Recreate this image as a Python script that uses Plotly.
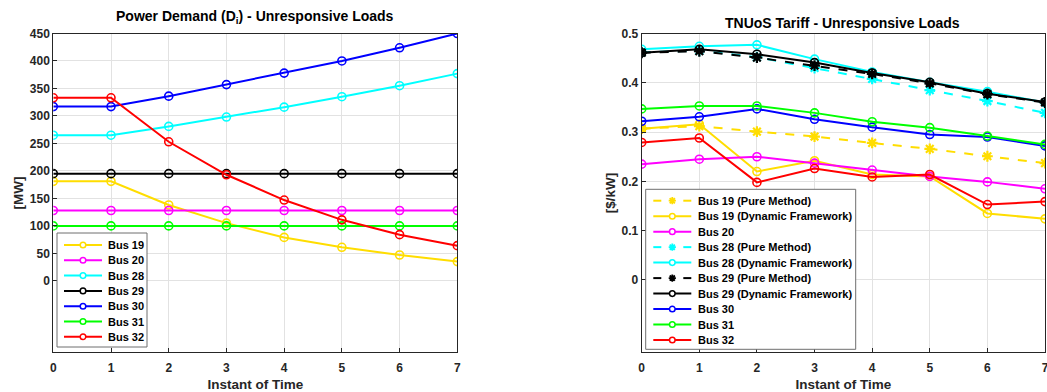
import plotly.graph_objects as go

t = [0, 1, 2, 3, 4, 5, 6, 7]

# Left chart: Power Demand [MW]
d_bus19 = [181, 181, 138, 105, 79, 61, 47, 35]
d_bus20 = [128, 128, 128, 128, 128, 128, 128, 128]
d_bus28 = [265, 265, 281, 298, 316, 335, 355, 377]
d_bus29 = [195, 195, 195, 195, 195, 195, 195, 195]
d_bus30 = [317, 317, 336, 357, 378, 400, 424, 450]
d_bus31 = [100, 100, 100, 100, 100, 100, 100, 100]
d_bus32 = [333, 333, 253, 193, 147, 111, 84, 64]

# Right chart: TNUoS Tariff [$/kW]
p_bus19_pure = [0.307, 0.312, 0.301, 0.291, 0.278, 0.266, 0.251, 0.237]
p_bus19_dyn = [0.307, 0.316, 0.220, 0.242, 0.214, 0.210, 0.135, 0.124]
p_bus20 = [0.235, 0.245, 0.250, 0.237, 0.223, 0.210, 0.199, 0.185]
p_bus28_pure = [0.462, 0.465, 0.452, 0.430, 0.408, 0.385, 0.363, 0.339]
p_bus28_dyn = [0.468, 0.474, 0.477, 0.448, 0.422, 0.401, 0.382, 0.360]
p_bus29_pure = [0.461, 0.464, 0.451, 0.435, 0.418, 0.399, 0.377, 0.360]
p_bus29_dyn = [0.461, 0.468, 0.458, 0.441, 0.420, 0.401, 0.378, 0.361]
p_bus30 = [0.322, 0.331, 0.347, 0.326, 0.310, 0.295, 0.290, 0.272]
p_bus31 = [0.347, 0.353, 0.353, 0.339, 0.321, 0.309, 0.292, 0.275]
p_bus32 = [0.279, 0.288, 0.198, 0.226, 0.209, 0.214, 0.153, 0.159]

YEL = "#FFDD00"
MAG = "#FF00FF"
CYA = "#00FFFF"
BLK = "#000000"
BLU = "#0000FF"
GRN = "#00FF00"
RED = "#FF0000"

FONT = "Liberation Sans, Arial, sans-serif"
TXT = "#262626"
W, H = 1047, 392

fig = go.Figure()


def solid(x, y, name, color, xa, ya):
    return go.Scatter(
        x=x, y=y, name=name, mode="lines+markers", showlegend=False,
        line=dict(color=color, width=2),
        marker=dict(symbol="circle-open", size=8, color=color, line=dict(width=1.6, color=color)),
        xaxis=xa, yaxis=ya,
    )


def dashed(x, y, name, color, xa, ya):
    return go.Scatter(
        x=x, y=y, name=name, mode="lines+markers", showlegend=False,
        line=dict(color=color, width=2, dash="dash"),
        marker=dict(symbol="asterisk", size=9, color=color, line=dict(width=2.2, color=color)),
        xaxis=xa, yaxis=ya,
    )


left = [
    ("Bus 19", d_bus19, YEL, False), ("Bus 20", d_bus20, MAG, False), ("Bus 28", d_bus28, CYA, False),
    ("Bus 29", d_bus29, BLK, False), ("Bus 30", d_bus30, BLU, False), ("Bus 31", d_bus31, GRN, False),
    ("Bus 32", d_bus32, RED, False),
]
for name, vals, col, _ in left:
    fig.add_trace(solid(t, vals, name, col, "x", "y"))

right = [
    ("Bus 19 (Pure Method)", p_bus19_pure, YEL, True),
    ("Bus 19 (Dynamic Framework)", p_bus19_dyn, YEL, False),
    ("Bus 20", p_bus20, MAG, False),
    ("Bus 28 (Pure Method)", p_bus28_pure, CYA, True),
    ("Bus 28 (Dynamic Framework)", p_bus28_dyn, CYA, False),
    ("Bus 29 (Pure Method)", p_bus29_pure, BLK, True),
    ("Bus 29 (Dynamic Framework)", p_bus29_dyn, BLK, False),
    ("Bus 30", p_bus30, BLU, False),
    ("Bus 31", p_bus31, GRN, False),
    ("Bus 32", p_bus32, RED, False),
]
for name, vals, col, pure in right:
    f = dashed if pure else solid
    fig.add_trace(f(t, vals, name, col, "x2", "y2"))

# ---- Legend boxes drawn as shapes + annotations (compact MATLAB-like spacing) ----
shapes = []
annotations = []


def px(x):
    return x / W


def py(y):
    return 1 - y / H


def add_legend(entries, box, first_y, step, line_x0, line_x1, text_x):
    bx0, by0, bx1, by1 = box
    shapes.append(dict(type="rect", xref="paper", yref="paper", x0=px(bx0), x1=px(bx1),
                       y0=py(by1), y1=py(by0), fillcolor="white",
                       line=dict(color="#6e6e6e", width=1), layer="above"))
    mx = (line_x0 + line_x1) / 2
    for i, (name, _, col, pure) in enumerate(entries):
        yc = first_y + i * step
        if pure:
            for a, b in ((line_x0, line_x0 + 8), (line_x1 - 8, line_x1)):
                shapes.append(dict(type="line", xref="paper", yref="paper", x0=px(a), x1=px(b),
                                   y0=py(yc), y1=py(yc), line=dict(color=col, width=2), layer="above"))
            h, d = 3.6, 2.6
            segs = [(-h, 0, h, 0), (0, -h, 0, h), (-d, -d, d, d), (-d, d, d, -d)]
            path = " ".join(
                f"M{px(mx + a):.5f},{py(yc + b):.5f} L{px(mx + c):.5f},{py(yc + e):.5f}"
                for a, b, c, e in segs)
            shapes.append(dict(type="path", xref="paper", yref="paper", path=path,
                               line=dict(color=col, width=1.8), layer="above"))
        else:
            shapes.append(dict(type="line", xref="paper", yref="paper", x0=px(line_x0), x1=px(line_x1),
                               y0=py(yc), y1=py(yc), line=dict(color=col, width=2), layer="above"))
            r = 2.8
            shapes.append(dict(type="circle", xref="paper", yref="paper", x0=px(mx - r), x1=px(mx + r),
                               y0=py(yc + r), y1=py(yc - r), fillcolor="white",
                               line=dict(color=col, width=1.5), layer="above"))
        annotations.append(dict(text=name, x=px(text_x), y=py(yc), xref="paper", yref="paper",
                                showarrow=False, xanchor="left", yanchor="middle",
                                font=dict(family=FONT, size=11, color="#000000", weight="bold")))


add_legend(left, (57, 233, 147, 347), 245, 15.3, 64, 102, 106)
add_legend(right, (645.7, 189.3, 855.7, 349.3), 200.7, 15.48, 653.3, 691.3, 695.7)

y_dom = [1 - 352.3 / H, 1 - 33.5 / H]

axis_common = dict(
    showline=True, mirror=True, linecolor=TXT, linewidth=1,
    ticks="inside", ticklen=4, tickcolor=TXT,
    showgrid=True, gridcolor="#e2e2e2", gridwidth=1, zeroline=False,
    tickfont=dict(family=FONT, size=12, color=TXT, weight="bold"),
    automargin=False, ticklabeloverflow="allow",
)
title_font = dict(family=FONT, size=13.5, color=TXT, weight="bold")

fig.update_layout(
    width=W, height=H,
    margin=dict(l=0, r=0, t=0, b=0),
    paper_bgcolor="white", plot_bgcolor="white",
    font=dict(family=FONT, color=TXT),
    showlegend=False,
    xaxis=dict(domain=[53.3 / W, 457.3 / W], range=[0, 7], tickvals=t, anchor="y", ticklabelstandoff=4,
               title=dict(text="Instant of Time", font=title_font, standoff=9), **axis_common),
    yaxis=dict(domain=y_dom, range=[-130, 450], tickvals=list(range(0, 451, 50)), anchor="x",
               title=dict(text="[MW]", font=title_font, standoff=3), **axis_common),
    xaxis2=dict(domain=[641.7 / W, 1045 / W], range=[0, 7], tickvals=t, anchor="y2", ticklabelstandoff=4,
                title=dict(text="Instant of Time", font=title_font, standoff=9), **axis_common),
    yaxis2=dict(domain=y_dom, range=[-0.1467, 0.5], tickvals=[0, 0.1, 0.2, 0.3, 0.4, 0.5], tickformat=".1~f",
                anchor="x2", title=dict(text="[$/kW]", font=title_font, standoff=2), **axis_common),
    shapes=shapes,
    annotations=[
        dict(text="Power Demand (D<sub>i</sub>) - Unresponsive Loads", x=255 / W, y=1 - 17 / H,
             xref="paper", yref="paper", showarrow=False, xanchor="center", yanchor="middle",
             font=dict(family=FONT, size=14, color="#000000", weight="bold")),
        dict(text="TNUoS Tariff - Unresponsive Loads", x=843 / W, y=1 - 23 / H,
             xref="paper", yref="paper", showarrow=False, xanchor="center", yanchor="middle",
             font=dict(family=FONT, size=14, color="#000000", weight="bold")),
    ] + annotations,
)

fig.write_html("out.html")
